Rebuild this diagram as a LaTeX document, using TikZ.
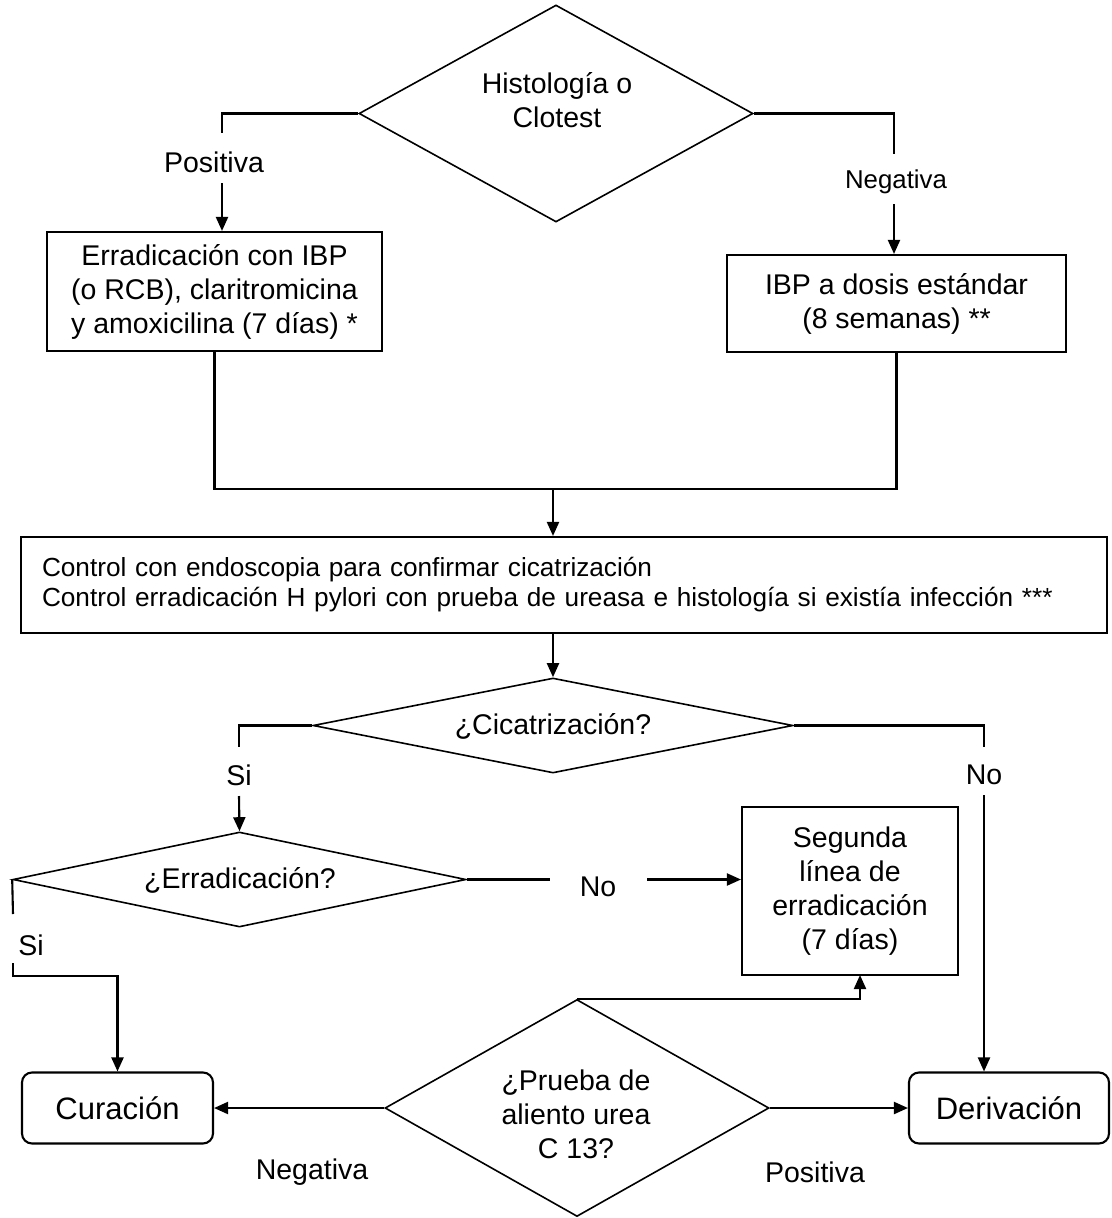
\documentclass[tikz,border=0pt]{standalone}
\usepackage{fontspec}
\setmainfont{Liberation Sans}
\usetikzlibrary{shapes.geometric,arrows.meta,calc}
\newcommand\fsmain{\fontsize{28.5}{34}\selectfont}
\newcommand\fsbig{\fontsize{26.2}{30}\selectfont}
\newcommand\fsneg{\fontsize{25.8}{30}\selectfont}
\newcommand\fsend{\fontsize{31}{36}\selectfont}
\begin{document}
\begin{tikzpicture}[x=1pt,y=-1pt,
  every node/.style={font=\fsmain},
  dia/.style={draw, diamond, line width=1.6pt, inner sep=0pt},
  txt/.style={align=center, inner sep=0pt},
  boxn/.style={draw, rectangle, line width=2.1pt, align=center, inner sep=0pt},
  endbox/.style={boxn, rounded corners=10pt},
  lbl/.style={inner sep=1pt},
  conn/.style={line width=2.1pt},
  arr/.style={conn, -{Triangle[length=14pt,width=12pt]}}]
\useasboundingbox (0,0) rectangle (1111,1218);

% nodes
\node[dia, minimum width=394pt, minimum height=217pt] (d1) at (556,113.5) {};
\node[txt] (d1t) at (557,100) {Histología o\\Clotest};
\node[boxn, minimum width=335pt, minimum height=119pt] (lbox) at (214.5,291.5) {Erradicación con IBP\\(o RCB), claritromicina\\y amoxicilina (7 días) *};
\node[boxn, minimum width=339pt, minimum height=97pt] (rbox) at (896.5,303.5) {IBP a dosis estándar\\(8 semanas) **};
\node[boxn, minimum width=1086pt, minimum height=96pt, align=left, text width=1044pt, font=\fsbig] (cbox) at (564,585) {Control con endoscopia para confirmar cicatrización\\Control erradicación H pylori con prueba de ureasa e histología si existía infección ***};
\node[dia, minimum width=480pt, minimum height=95pt] (d2) at (553,725.5) {};
\node[txt] (d2t) at (553,726) {¿Cicatrización?};
\node[dia, minimum width=453pt, minimum height=95pt] (d3) at (239.5,879.5) {};
\node[txt] (d3t) at (240,880) {¿Erradicación?};
\node[boxn, minimum width=216pt, minimum height=168pt] (sbox) at (850,891) {Segunda\\línea de\\erradicación\\(7 días)};
\node[dia, minimum width=384pt, minimum height=217pt] (d4) at (577,1108) {};
\node[txt] (d4t) at (576,1114) {¿Prueba de\\aliento urea\\C 13?};
\node[endbox, minimum width=191pt, minimum height=71pt, font=\fsend] (cur) at (117.5,1108) {Curación};
\node[endbox, minimum width=200pt, minimum height=71pt, font=\fsend] (der) at (1009,1108) {Derivación};

% labels
\node[lbl] (lpos) at (214,162) {Positiva};
\node[lbl, font=\fsneg] (lneg) at (896,182) {Negativa};
\node[lbl] (lsi1) at (239,775) {Si};
\node[lbl] (lno1) at (984,775) {No};
\node[lbl] (lno2) at (598,887) {No};
\node[lbl] (lsi2) at (31,945) {Si};
\node[lbl] (lneg2) at (312,1172) {Negativa};
\node[lbl] (lpos2) at (815,1172) {Positiva};

% coordinates
\coordinate (pA) at (222,133); \coordinate (pB) at (222,183);
\coordinate (nA) at (894,154); \coordinate (nB) at (894,204);
\coordinate (mC) at (553,489);
\coordinate (sA) at (239,747); \coordinate (sB) at (239,796);
\coordinate (oA) at (984,747); \coordinate (oB) at (984,795);
\coordinate (eA) at (550,879.5); \coordinate (eB) at (647,879.5);
\coordinate (tA) at (13,914); \coordinate (tB) at (13,963); \coordinate (tC) at (117.5,976);
\coordinate (uA) at (860,975);

% connectors
\draw[conn] (d1.west) -| (pA);
\draw[arr] (pB) -- (pB |- lbox.north);
\draw[conn] (d1.east) -| (nA);
\draw[arr] (nB) -- (nB |- rbox.north);
\draw[conn] (lbox.south) |- (mC);
\draw[conn] (rbox.south) |- (mC);
\draw[arr] (mC) -- (mC |- cbox.north);
\draw[arr] (cbox.south -| d2.north) -- (d2.north);
\draw[conn] (d2.west) -| (sA);
\draw[arr] (sB) -- (d3.north);
\draw[conn] (d2.east) -| (oA);
\draw[arr] (oB) -- (oB |- der.north);
\draw[conn] (d3.east) -- (eA);
\draw[arr] (eB) -- (eB -| sbox.west);
\draw[conn] (d3.west) -- (tA);
\draw[arr] (tB) |- (tC) -- (cur.north);
\draw[arr] (d4.north) -| (uA);
\draw[arr] (d4.west) -- (cur.east);
\draw[arr] (d4.east) -- (der.west);
\end{tikzpicture}
\end{document}
